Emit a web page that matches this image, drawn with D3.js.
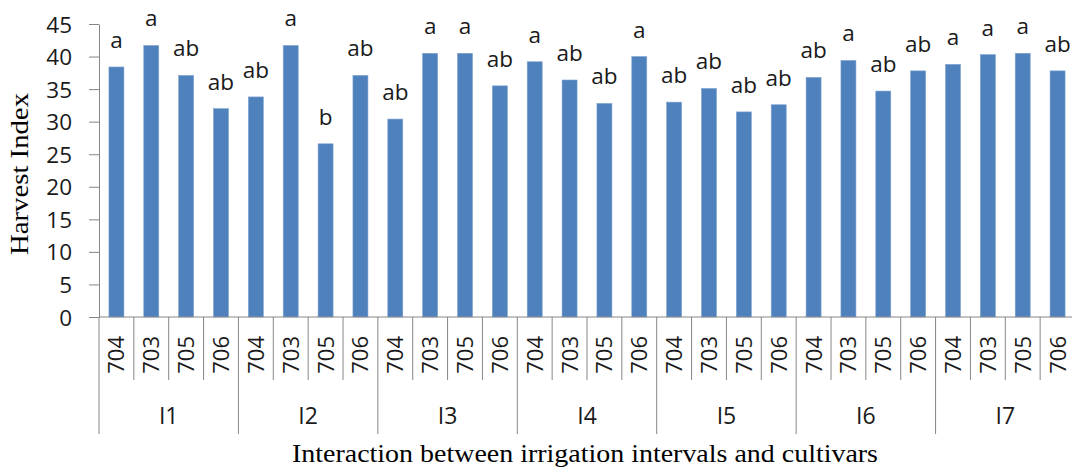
<!DOCTYPE html>
<html>
<head>
<meta charset="utf-8">
<script src="https://cdn.jsdelivr.net/npm/d3@7/dist/d3.min.js"></script>
<style>
  html, body { margin: 0; padding: 0; background: #fff; }
  svg { display: block; }
</style>
</head>
<body>
<svg id="chart" width="1072" height="468"></svg>
<script>
// ---- data ----
const groups = ["I1", "I2", "I3", "I4", "I5", "I6", "I7"];
const cultivars = ["704", "703", "705", "706"];
const harvestIndex = [
  38.4, 41.7, 37.1, 32.0,
  33.8, 41.7, 26.6, 37.1,
  30.4, 40.5, 40.5, 35.5,
  39.2, 36.4, 32.8, 40.0,
  33.0, 35.1, 31.5, 32.6,
  36.8, 39.4, 34.7, 37.8,
  38.8, 40.3, 40.5, 37.8
];
const letters = [
  "a", "a", "ab", "ab",
  "ab", "a", "b", "ab",
  "ab", "a", "a", "ab",
  "a", "ab", "ab", "a",
  "ab", "ab", "ab", "ab",
  "ab", "a", "ab", "ab",
  "a", "a", "a", "ab"
];
const yTicks = [0, 5, 10, 15, 20, 25, 30, 35, 40, 45];
const yTitle = "Harvest Index";
const xTitle = "Interaction between irrigation intervals and cultivars";

(function () {
// ---- build rows ----
const rows = [];
groups.forEach((g, gi) => {
  cultivars.forEach((c, ci) => {
    const i = gi * cultivars.length + ci;
    rows.push({ id: g + "-" + c, group: g, cultivar: c, value: harvestIndex[i], letter: letters[i] });
  });
});

// ---- layout ----
const plotLeft = 99, plotRight = 1075, plotTop = 24, plotBottom = 317;
const sansFont = "'Open Sans', Lato, sans-serif";
const serifFont = "'Liberation Serif', 'DejaVu Serif', serif";
const axisColor = "#868686";
const textColor = "#1a1a1a";
const barColor = "#4F81BD";

const svg = d3.select("#chart");

const x = d3.scaleBand()
  .domain(rows.map(d => d.id))
  .range([plotLeft, plotRight])
  .paddingInner(0.57)
  .paddingOuter(0.285);
const step = x.step();

const xg = d3.scaleBand()
  .domain(groups)
  .range([plotLeft, plotRight]);

const y = d3.scaleLinear().domain([0, 45]).range([plotBottom, plotTop]);

// bars
svg.append("g").selectAll("rect")
  .data(rows)
  .join("rect")
  .attr("x", d => x(d.id))
  .attr("y", d => y(d.value))
  .attr("width", x.bandwidth())
  .attr("height", d => y(0) - y(d.value))
  .attr("fill", barColor)
  .attr("stroke", "#7fa3d1")
  .attr("stroke-width", 0.6);

// significance letters
svg.append("g").selectAll("text")
  .data(rows)
  .join("text")
  .attr("x", d => x(d.id) + x.bandwidth() / 2)
  .attr("y", d => y(d.value) - 19)
  .attr("text-anchor", "middle")
  .attr("font-family", sansFont)
  .attr("font-size", 22.5)
  .attr("fill", textColor)
  .text(d => d.letter);

// y axis
const yAxis = d3.axisLeft(y).tickValues(yTicks).tickSize(10).tickPadding(17).tickSizeOuter(0);
const gy = svg.append("g").attr("transform", `translate(${plotLeft},0)`).call(yAxis);
gy.select(".domain").attr("stroke", axisColor);
gy.selectAll(".tick line").attr("stroke", axisColor);
gy.selectAll(".tick text")
  .attr("font-family", sansFont)
  .attr("font-size", 22.5)
  .attr("fill", textColor)
  .attr("dy", "0.36em");

// x axis baseline
svg.append("line")
  .attr("x1", plotLeft).attr("x2", plotRight)
  .attr("y1", y(0)).attr("y2", y(0))
  .attr("stroke", axisColor);

// separators between cultivars
const innerBounds = rows.map((d, i) => i).filter(i => i % cultivars.length !== 0);
svg.append("g").selectAll("line")
  .data(innerBounds)
  .join("line")
  .attr("x1", i => plotLeft + i * step).attr("x2", i => plotLeft + i * step)
  .attr("y1", y(0)).attr("y2", 380)
  .attr("stroke", axisColor);

// separators between groups
svg.append("g").selectAll("line")
  .data(groups)
  .join("line")
  .attr("x1", g => xg(g)).attr("x2", g => xg(g))
  .attr("y1", y(0)).attr("y2", 434)
  .attr("stroke", axisColor);

// cultivar labels (rotated)
svg.append("g").selectAll("text")
  .data(rows)
  .join("text")
  .attr("transform", d => `translate(${x(d.id) + x.bandwidth() / 2 + 8},336) rotate(-90)`)
  .attr("text-anchor", "end")
  .attr("font-family", sansFont)
  .attr("font-size", 22)
  .attr("fill", textColor)
  .text(d => d.cultivar);

// group labels
svg.append("g").selectAll("text")
  .data(groups)
  .join("text")
  .attr("x", g => xg(g) + xg.bandwidth() / 2)
  .attr("y", 424)
  .attr("text-anchor", "middle")
  .attr("font-family", sansFont)
  .attr("font-size", 23)
  .attr("fill", textColor)
  .text(g => g);

// axis titles
svg.append("text")
  .attr("transform", `translate(28,174) rotate(-90)`)
  .attr("text-anchor", "middle")
  .attr("font-family", serifFont)
  .attr("font-size", 25)
  .attr("textLength", 162)
  .attr("lengthAdjust", "spacingAndGlyphs")
  .attr("fill", "#000")
  .text(yTitle);

svg.append("text")
  .attr("x", 585)
  .attr("y", 462)
  .attr("text-anchor", "middle")
  .attr("font-family", serifFont)
  .attr("font-size", 25)
  .attr("textLength", 586)
  .attr("lengthAdjust", "spacingAndGlyphs")
  .attr("fill", "#000")
  .text(xTitle);
})();
</script>
</body>
</html>
